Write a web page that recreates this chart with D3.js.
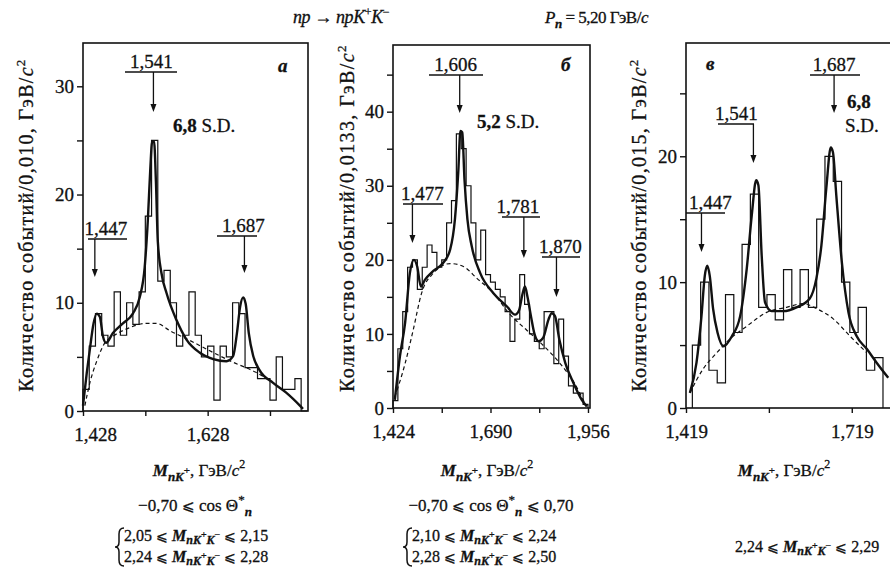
<!DOCTYPE html>
<html><head><meta charset="utf-8">
<script src="https://cdn.jsdelivr.net/npm/d3@7"></script>
<style>
body{margin:0;background:#fff}
svg{display:block}
text{font-family:"Liberation Serif","Times New Roman",serif;fill:#111;stroke:#111;stroke-width:0.3px}
</style>
</head><body>
<svg id="chart" width="890" height="568"></svg>
<script>
// ---------------- DATA ----------------
// Panel а  (bin 0,010 GeV/c^2)
const aBinStart = 1.428, aBinWidth = 0.010;
const aCounts = [2,6,9,7,6,11,7,10,8,11,18,25,12,13,10,6,7,11,7,5,6,1,6,5,10,9,4,4,3,3,1,5,2,2,3,0];
const aFitMass  = [1.428,1.434,1.439,1.445,1.450,1.455,1.460,1.465,1.476,1.492,1.508,1.519,1.527,1.532,1.536,1.539,1.542,1.545,1.548,1.554,1.562,1.578,1.594,1.615,1.637,1.658,1.669,1.675,1.680,1.685,1.689,1.694,1.701,1.711,1.733,1.754,1.776,1.781];
const aFitValue = [0.5,3.5,5.7,8.1,9,8.7,6.9,6.3,7.2,8.1,9,10.5,13.3,17.6,22.4,24.9,24.9,21.2,15.7,12.7,10.9,8.4,6.6,5.4,4.8,4.6,5.1,7.2,9.6,10.5,9.9,7.2,5.1,3.8,2.6,1.7,0.5,0.2];
const aBgMass  = [1.431,1.439,1.450,1.463,1.476,1.503,1.530,1.546,1.568,1.600,1.637,1.669,1.701,1.723];
const aBgValue = [0.5,2.6,4.6,6.3,6.9,7.7,8.1,8.1,7.4,6.5,5.4,4.5,3.7,3.0];
const aPeakMass  = [1.447, 1.541, 1.687];
const aPeakLabel = ["1,447", "1,541", "1,687"];
const aYTicks = [0,5,10,15,20,25,30];
const aXTicks = [1.428,1.528,1.628,1.728];
const aXLabels = [1.428,1.628];

// Panel б  (bin 0,0133 GeV/c^2)
const bBinStart = 1.424, bBinWidth = 0.0133;
const bCounts = [1,8,13,19,20,16,19,22,21,19,20,25,28,37,35,30,25,20,24,18,17,16,15,13,9,12,18,14,10,9,8,13,13,6,12,7,3,2,2,0.5];
const bFitMass  = [1.429,1.443,1.457,1.470,1.481,1.490,1.500,1.511,1.534,1.561,1.580,1.593,1.602,1.608,1.613,1.619,1.627,1.639,1.662,1.698,1.735,1.757,1.768,1.777,1.784,1.791,1.800,1.810,1.821,1.834,1.848,1.857,1.866,1.878,1.894,1.916,1.939,1.953];
const bFitValue = [1.1,7,11.5,18.2,20,19.1,16.4,17.3,18.5,19.6,21.4,25.5,31.8,37.4,37.2,30.9,25.5,21.8,18.2,15.5,13.7,12.6,13.2,15.3,16.4,15.0,12.5,10.0,9.0,9.5,11.9,12.8,12.4,9.2,6.1,3.4,1.1,0.2];
const bBgMass  = [1.429,1.457,1.479,1.502,1.534,1.580,1.616,1.653,1.698,1.744,1.789,1.835,1.880,1.916,1.948];
const bBgValue = [1.5,6,10.5,15.5,18.2,19.5,19.1,17.5,15.5,12.6,10.5,8.4,6,3.6,0.6];
const bPeakMass  = [1.477, 1.606, 1.781, 1.870];
const bPeakLabel = ["1,477", "1,606", "1,781", "1,870"];
const bYTicks = [0,5,10,15,20,25,30,35,40,45];
const bXTicks = [1.424,1.557,1.690,1.823,1.956];
const bXLabels = [1.424,1.690,1.956];

// Panel в  (bin 0,015 GeV/c^2)
const cBinStart = 1.4305, cBinWidth = 0.015;
const cCounts = [5,10,3,2,9,6,13,17,8,9,7,11,8,11,8,15,20,18,10,6,8,3,4];
const cFitMass  = [1.426,1.438,1.447,1.453,1.4575,1.462,1.468,1.476,1.487,1.502,1.517,1.529,1.538,1.546,1.550,1.556,1.562,1.574,1.595,1.619,1.643,1.655,1.664,1.673,1.681,1.685,1.691,1.701,1.713,1.728,1.746,1.764,1.785];
const cFitValue = [1.2,3.6,7.3,10.5,11.3,10.5,7.9,6,4.9,5.7,7.3,11.1,15.3,18.1,17.7,12.1,8.4,7.7,7.7,8.0,8.7,10.3,12.9,17.5,20.7,20.3,16.9,11.6,7.6,5.7,4.7,3.6,2.4];
const cBgMass  = [1.426,1.450,1.475,1.499,1.529,1.565,1.601,1.631,1.655,1.685,1.716,1.746];
const cBgValue = [1.2,3.1,4.4,5.5,6.5,7.6,8,8.3,7.9,7.1,5.7,4.4];
const cPeakMass  = [1.447, 1.541, 1.687];
const cPeakLabel = ["1,447", "1,541", "1,687"];
const cYTicks = [0,5,10,15,20,25];
const cXTicks = [1.419,1.569,1.719];
const cXLabels = [1.419,1.719];

// ---------------- DRAWING ----------------
const svg = d3.select("#chart");
const INK = "#111";
const fmt = v => d3.format(".3f")(v).replace(".", ",");

function rich(parent, x, y, parts, opts = {}) {
  const t = parent.append("text").attr("x", x).attr("y", y)
    .attr("font-size", opts.size || 18).attr("text-anchor", opts.anchor || "start");
  if (opts.transform) t.attr("transform", opts.transform);
  if (opts.ls != null) t.attr("letter-spacing", opts.ls);
  let shift = 0;
  parts.forEach(p => {
    const s = p.shift || 0;
    const ts = t.append("tspan").text(p.t).attr("dy", s - shift);
    if (p.dx) ts.attr("dx", p.dx);
    if (p.it) ts.attr("font-style", "italic");
    if (p.b) ts.attr("font-weight", "bold");
    if (p.fs) ts.attr("font-size", p.fs);
    shift = s;
  });
  return t;
}

function panel(cfg) {
  const {x, y} = cfg;
  const g = svg.append("g");
  const [x0, x1] = x.range();
  const [yb, yt] = y.range();

  // frame
  g.append("rect").attr("x", x0).attr("y", yt).attr("width", x1 - x0).attr("height", yb - yt)
    .attr("fill", "none").attr("stroke", INK).attr("stroke-width", 1.6);

  // histogram (step outline)
  let d = `M${x(cfg.binStart)},${y(0)}`;
  cfg.counts.forEach((c, i) => {
    d += `V${y(c)}H${x(cfg.binStart + (i + 1) * cfg.binWidth)}`;
  });
  d += `V${y(0)}`;
  g.append("path").attr("d", d).attr("fill", "none").attr("stroke", INK).attr("stroke-width", 1.2);

  // background (dashed)
  const line = d3.line().x(p => x(p[0])).y(p => y(p[1])).curve(d3.curveMonotoneX);
  g.append("path").attr("d", line(d3.zip(cfg.bgM, cfg.bgV)))
    .attr("fill", "none").attr("stroke", INK).attr("stroke-width", 1.2).attr("stroke-dasharray", "4,3");
  // fit
  g.append("path").attr("d", line(d3.zip(cfg.fitM, cfg.fitV)))
    .attr("fill", "none").attr("stroke", INK).attr("stroke-width", 2.4).attr("stroke-linejoin", "round");

  // axes
  const ya = g.append("g").attr("transform", `translate(${x0},0)`)
    .call(d3.axisLeft(y).tickValues(cfg.yTicks).tickSize(6).tickSizeOuter(0).tickPadding(3)
      .tickFormat(v => v % 10 === 0 ? v : ""));
  ya.attr("font-family", null).attr("font-size", 19);
  ya.select(".domain").remove();
  ya.selectAll("line").attr("stroke", INK).attr("stroke-width", 1.4);
  ya.selectAll("text").attr("fill", INK);

  const xa = g.append("g").attr("transform", `translate(0,${yb})`)
    .call(d3.axisBottom(x).tickValues(cfg.xTicks).tickSize(5).tickSizeOuter(0).tickPadding(12)
      .tickFormat(v => cfg.xLabels.includes(v) ? fmt(v) : ""));
  xa.attr("font-family", null).attr("font-size", 19);
  xa.select(".domain").remove();
  xa.selectAll("line").attr("stroke", INK).attr("stroke-width", 1.4);
  xa.selectAll("text").attr("fill", INK);
  if (cfg.firstLabelDx) xa.selectAll("text").filter((v, i) => i === 0).attr("dx", cfg.firstLabelDx);

  // y label
  rich(g, 0, 0, [
    {t: "Количество событий/" + cfg.binText + ", ГэВ/"},
    {t: "c", it: true},
    {t: "2", fs: 13, shift: -8}
  ], {size: 20, anchor: "middle", ls: cfg.yLabelLs,
      transform: `translate(${cfg.yLabelX},${cfg.yLabelY}) rotate(-90)`});

  // peak annotations
  cfg.peaks.forEach((pk, i) => {
    const ax = x(cfg.peakMass[i]);
    const lx = ax + pk.textDx;
    g.append("text").attr("x", lx).attr("y", pk.ty).attr("text-anchor", "middle")
      .attr("font-size", 19).text(cfg.peakLabel[i]);
    g.append("line").attr("x1", pk.u0).attr("x2", pk.u1)
      .attr("y1", pk.ty + 4).attr("y2", pk.ty + 4).attr("stroke", INK).attr("stroke-width", 1.3);
    g.append("line").attr("x1", ax).attr("x2", ax).attr("y1", pk.ty + 4).attr("y2", pk.tip - 6)
      .attr("stroke", INK).attr("stroke-width", 1.3);
    g.append("path").attr("d", `M${ax - 3},${pk.tip - 8}L${ax + 3},${pk.tip - 8}L${ax},${pk.tip}Z`).attr("fill", INK);
  });

  // panel letter
  g.append("text").attr("x", cfg.letterX).attr("y", cfg.letterY).attr("font-size", 19)
    .attr("font-style", "italic").attr("font-weight", "bold").text(cfg.letter);
  return g;
}

// Panel а
const ax = d3.scaleLinear().domain([1.428, 1.789]).range([83, 308]);
const ay = d3.scaleLinear().domain([0, 34]).range([411, 43]);
const gA = panel({
  x: ax, y: ay, counts: aCounts, binStart: aBinStart, binWidth: aBinWidth,
  fitM: aFitMass, fitV: aFitValue, bgM: aBgMass, bgV: aBgValue,
  yTicks: aYTicks, xTicks: aXTicks, xLabels: aXLabels, firstLabelDx: 12,
  binText: "0,010", yLabelX: 33, yLabelY: 225, yLabelLs: 1.3,
  peakMass: aPeakMass, peakLabel: aPeakLabel,
  peaks: [
    {textDx: 11, ty: 235, tip: 277, u0: 88, u1: 127},
    {textDx: -2, ty: 68, tip: 112, u0: 125, u1: 177},
    {textDx: -1, ty: 232, tip: 273, u0: 217, u1: 257}
  ],
  letter: "а", letterX: 278, letterY: 72
});
rich(gA, 173, 132, [{t: "6,8", b: true}, {t: " S.D."}], {size: 19});

// Panel б
const bx = d3.scaleLinear().domain([1.424, 1.9615]).range([393, 590]);
const by = d3.scaleLinear().domain([0, 49]).range([408, 45]);
const gB = panel({
  x: bx, y: by, counts: bCounts, binStart: bBinStart, binWidth: bBinWidth,
  fitM: bFitMass, fitV: bFitValue, bgM: bBgMass, bgV: bBgValue,
  yTicks: bYTicks, xTicks: bXTicks, xLabels: bXLabels,
  binText: "0,0133", yLabelX: 354, yLabelY: 218, yLabelLs: 1.4,
  peakMass: bPeakMass, peakLabel: bPeakLabel,
  peaks: [
    {textDx: 10, ty: 200, tip: 243, u0: 403, u1: 443},
    {textDx: -4, ty: 71, tip: 113, u0: 429, u1: 483},
    {textDx: -6, ty: 213, tip: 258, u0: 502, u1: 540},
    {textDx: 4, ty: 253, tip: 297, u0: 542, u1: 580}
  ],
  letter: "б", letterX: 561, letterY: 71
});
rich(gB, 477, 128, [{t: "5,2", b: true}, {t: " S.D."}], {size: 19});

// Panel в
const cx = d3.scaleLinear().domain([1.419, 1.79]).range([686, 891]);
const cy = d3.scaleLinear().domain([0, 29]).range([408, 43]);
const gC = panel({
  x: cx, y: cy, counts: cCounts, binStart: cBinStart, binWidth: cBinWidth,
  fitM: cFitMass, fitV: cFitValue, bgM: cBgMass, bgV: cBgValue,
  yTicks: cYTicks, xTicks: cXTicks, xLabels: cXLabels,
  binText: "0,015", yLabelX: 646, yLabelY: 225, yLabelLs: 1.3,
  peakMass: cPeakMass, peakLabel: cPeakLabel,
  peaks: [
    {textDx: 9, ty: 209, tip: 252, u0: 686, u1: 725},
    {textDx: -17, ty: 120, tip: 163, u0: 718, u1: 754},
    {textDx: 0, ty: 71, tip: 113, u0: 810, u1: 860}
  ],
  letter: "в", letterX: 706, letterY: 70
});
rich(gC, 847, 108, [{t: "6,8", b: true}], {size: 19});
rich(gC, 845, 132, [{t: "S.D."}], {size: 19});

// ---------- titles ----------
rich(svg, 293, 23, [
  {t: "np", it: true}, {t: " → "}, {t: "npK", it: true}, {t: "+", fs: 12, shift: -7},
  {t: "K", it: true, shift: 0}, {t: "−", fs: 12, shift: -7}
], {size: 18, ls: -0.4});
rich(svg, 545, 23, [
  {t: "P", it: true}, {t: "n", it: true, b: true, fs: 13, shift: 5}, {t: " = 5,20 ГэВ/", shift: 0}, {t: "c", it: true}
], {size: 17, ls: -0.5});

// ---------- bottom captions ----------
const mLabel = [
  {t: "M", it: true, b: true}, {t: "nK", it: true, b: true, fs: 13, shift: 5}, {t: "+", fs: 11, shift: -2},
  {t: ", ГэВ/", shift: 0}, {t: "c", it: true}, {t: "2", fs: 12, shift: -8}
];
rich(svg, 199, 476, mLabel, {anchor: "middle", size: 17});
rich(svg, 487, 476, mLabel, {anchor: "middle", size: 17});
rich(svg, 784, 476, mLabel, {anchor: "middle", size: 17});

const cosPart = [
  {t: "−0,70 "}, {t: "⩽", fs: 15}, {t: " cos Θ"}, {t: "*", fs: 13, shift: -7}, {t: "n", it: true, b: true, fs: 13, shift: 5}
];
rich(svg, 195, 511, cosPart, {anchor: "middle", size: 17});
rich(svg, 491, 511, cosPart.concat([{t: " ", shift: 0}, {t: "⩽", fs: 15}, {t: " 0,70"}]), {anchor: "middle", size: 17});

function mRange(lo, hi) {
  return [
    {t: lo + " "}, {t: "⩽", fs: 14}, {t: " "}, {t: "M", it: true, b: true},
    {t: "nK", it: true, b: true, fs: 12, shift: 3}, {t: "+", fs: 10, shift: -3},
    {t: "K", it: true, b: true, fs: 12, shift: 3}, {t: "−", fs: 10, shift: -3},
    {t: " ", shift: 0}, {t: "⩽", fs: 14}, {t: " " + hi}
  ];
}
function brace(x, top, bottom) {
  const m = (top + bottom) / 2;
  svg.append("path")
    .attr("d", `M${x + 5},${top} Q${x},${top} ${x},${top + 6} L${x},${m - 5} Q${x},${m} ${x - 4},${m} Q${x},${m} ${x},${m + 5} L${x},${bottom - 6} Q${x},${bottom} ${x + 5},${bottom}`)
    .attr("fill", "none").attr("stroke", INK).attr("stroke-width", 1.5);
}
rich(svg, 124, 541, mRange("2,05", "2,15"), {size: 16});
rich(svg, 124, 562, mRange("2,24", "2,28"), {size: 16});
brace(119, 528, 566);
rich(svg, 412, 541, mRange("2,10", "2,24"), {size: 16});
rich(svg, 412, 562, mRange("2,28", "2,50"), {size: 16});
brace(407, 528, 566);
rich(svg, 735, 552, mRange("2,24", "2,29"), {size: 16});
</script>
</body></html>
